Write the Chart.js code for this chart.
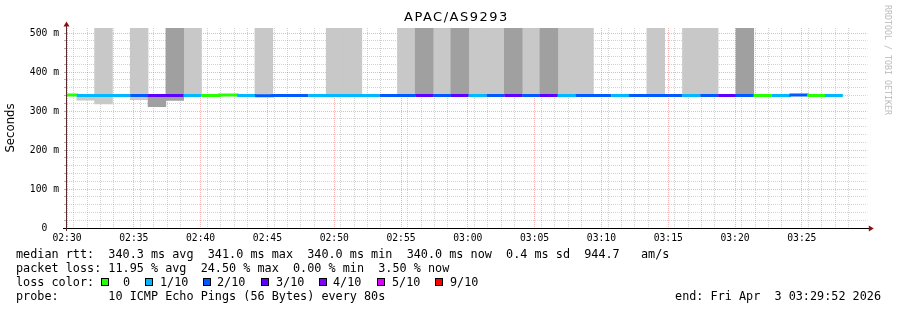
<!DOCTYPE html>
<html>
<head>
<meta charset="utf-8">
<script src="https://cdn.jsdelivr.net/npm/chart.js@4.4.1/dist/chart.umd.min.js"></script>
<style>
  html, body { margin: 0; padding: 0; background: #fff; }
  #wrap { position: relative; width: 897px; height: 310px; overflow: hidden; }
  #graph { position: absolute; left: 0; top: 0; }
  .mono { position: absolute; white-space: pre; font-family: "DejaVu Sans Mono", monospace; font-size: 11.8px; line-height: 14px; color: #000; }
  #title { position: absolute; left: 404px; top: 9px; white-space: pre; font-family: "DejaVu Sans", sans-serif; font-size: 13px; letter-spacing: 1.5px; color: #000; }
  #credit { position: absolute; left: 891.5px; top: 5px; white-space: pre; font-family: "DejaVu Sans Mono", monospace; font-size: 8.3px; line-height: 9px; color: #bbb; transform: rotate(90deg); transform-origin: 0 0; }
  .box { position: absolute; width: 6px; height: 6px; border: 1px solid #000; }
</style>
</head>
<body>
<div id="wrap">
  <canvas id="graph" width="897" height="310"></canvas>
  <div id="title">APAC/AS9293</div>
  <div id="credit">RRDTOOL / TOBI OETIKER</div>
  <div class="mono" style="left:16px; top:247px;">median rtt:  340.3 ms avg  341.0 ms max  340.0 ms min  340.0 ms now  0.4 ms sd  944.7   am/s</div>
  <div class="mono" style="left:16px; top:261px;">packet loss: 11.95 % avg  24.50 % max  0.00 % min  3.50 % now</div>
  <div class="mono" id="lossRow" style="left:0; top:275px; width:897px; height:14px;"><span style="position:absolute; left:16px;">loss color:</span></div>
  <div class="mono" style="left:16px; top:289px;">probe:       10 ICMP Echo Pings (56 Bytes) every 80s</div>
  <div class="mono" style="right:16px; top:289px;">end: Fri Apr  3 03:29:52 2026</div>
</div>
<script>
// one probe round every 80 s, start time of each round
const stepSeconds = 80;
const stepTimes = [
  '02:29:24', '02:30:44', '02:32:04', '02:33:24', '02:34:44', '02:36:04', '02:37:24', '02:38:44',
  '02:40:04', '02:41:24', '02:42:44', '02:44:04', '02:45:24', '02:46:44', '02:48:04', '02:49:24',
  '02:50:44', '02:52:04', '02:53:24', '02:54:44', '02:56:04', '02:57:24', '02:58:44', '03:00:04',
  '03:01:24', '03:02:44', '03:04:04', '03:05:24', '03:06:44', '03:08:04', '03:09:24', '03:10:44',
  '03:12:04', '03:13:24', '03:14:44', '03:16:04', '03:17:24', '03:18:44', '03:20:04', '03:21:24',
  '03:22:44', '03:24:04', '03:25:24', '03:26:44'
];
const lastStepEnd = '03:28:04';

// median rtt in seconds
const medianRtt = [
  0.341, 0.340, 0.340, 0.340, 0.340, 0.340, 0.340, 0.340, 0.340, 0.341,
  0.340, 0.339, 0.340, 0.340, 0.340, 0.340, 0.340, 0.340, 0.340, 0.340,
  0.340, 0.340, 0.340, 0.340, 0.340, 0.340, 0.340, 0.340, 0.340, 0.340,
  0.340, 0.340, 0.340, 0.340, 0.340, 0.340, 0.340, 0.340, 0.340, 0.340,
  0.340, 0.341, 0.340, 0.340
];

// lost pings out of 10
const lostPings = [
  0, 1, 1, 1, 2, 3, 3, 1, 0, 0,
  1, 2, 2, 2, 1, 1, 1, 1, 2, 2,
  3, 2, 3, 1, 2, 3, 2, 3, 1, 2,
  2, 1, 2, 2, 2, 1, 2, 3, 2, 0,
  1, 2, 0, 1
];

// smoke ranges [low, high] in seconds (high pings run off the top of the graph)
const lightSmoke = [
  null, [0.328, 0.340], [0.318, 0.52], null, [0.329, 0.52], null, null, [0.340, 0.52], null, null,
  null, [0.339, 0.52], null, null, null, [0.340, 0.52], [0.340, 0.52], null, null, [0.340, 0.52],
  null, [0.340, 0.52], null, [0.340, 0.52], [0.340, 0.52], null, [0.340, 0.52], null, [0.340, 0.52], [0.340, 0.52],
  null, null, null, [0.340, 0.52], null, [0.340, 0.52], [0.340, 0.52], null, null, null,
  null, null, null, null
];
const darkSmoke = [
  null, null, null, null, null, [0.311, 0.340], [0.327, 0.52], null, null, null,
  null, null, null, null, null, null, null, null, null, null,
  [0.340, 0.52], null, [0.340, 0.52], null, null, [0.340, 0.52], null, [0.340, 0.52], null, null,
  null, null, null, null, null, null, null, null, [0.340, 0.52], null,
  null, null, null, null
];

const lossNames = ['0', '1/10', '2/10', '3/10', '4/10', '5/10', '9/10'];
const lossColors = ['#26ff00', '#00b8ff', '#0059ff', '#5e00ff', '#7e00ff', '#dd00ff', '#ff0000'];

function toMinutes(t) {
  const [h, m, s] = t.split(':').map(Number);
  return (h * 3600 + m * 60 + s - (2 * 3600 + 30 * 60)) / 60;
}
function hhmm(v) {
  const total = 150 + Math.round(v);
  return String(Math.floor(total / 60)).padStart(2, '0') + ':' + String(total % 60).padStart(2, '0');
}
function lossColor(n) {
  return n >= 9 ? lossColors[6] : lossColors[Math.min(n, 5)];
}

// legend boxes
const legendBoxX = [101, 144.5, 202.5, 261, 318.5, 377, 434.5];
const legendTextX = [123, 160, 217, 276, 333, 392, 450];
const row = document.getElementById('lossRow');
lossNames.forEach((name, i) => {
  const b = document.createElement('span');
  b.className = 'box';
  b.style.left = legendBoxX[i] + 'px';
  b.style.top = '3px';
  b.style.background = lossColors[i];
  row.appendChild(b);
  const t = document.createElement('span');
  t.style.position = 'absolute';
  t.style.left = legendTextX[i] + 'px';
  t.textContent = name;
  row.appendChild(t);
});

const stepMin = stepSeconds / 60;
const lineData = stepTimes.map((t, i) => ({ x: toMinutes(t), y: medianRtt[i] }));
lineData.push({ x: toMinutes(lastStepEnd), y: medianRtt[medianRtt.length - 1] });

const minorGray = 'rgba(130,130,130,0.36)';
const majorRed = 'rgba(220,0,0,0.3)';
const tickFont = { family: 'DejaVu Sans Mono', size: 9.7 };

function minorX(c) {
  if (!c.tick) return 'transparent';
  return Math.round(c.tick.value) % 5 === 0 ? 'transparent' : minorGray;
}
function minorY(c) {
  if (!c.tick) return 'transparent';
  const v = c.tick.value * 10;
  return Math.abs(v - Math.round(v)) < 1e-6 ? 'transparent' : minorGray;
}

const axisArrows = {
  id: 'axisArrows',
  afterDraw(chart) {
    const { ctx, chartArea: a } = chart;
    const yb = Math.round(a.bottom) + 0.5;
    const xl = Math.round(a.left) - 0.5;
    ctx.save();
    ctx.lineWidth = 1;
    ctx.strokeStyle = '#000';
    ctx.beginPath();
    ctx.moveTo(a.left - 4, yb);
    ctx.lineTo(a.right + 2, yb);
    ctx.stroke();
    ctx.strokeStyle = '#5a2a2a';
    ctx.beginPath();
    ctx.moveTo(xl, a.bottom + 3);
    ctx.lineTo(xl, a.top - 2);
    ctx.stroke();
    ctx.fillStyle = '#8b1010';
    ctx.beginPath();
    ctx.moveTo(a.right + 6.5, yb);
    ctx.lineTo(a.right + 1.5, yb - 3);
    ctx.lineTo(a.right + 1.5, yb + 3);
    ctx.closePath();
    ctx.fill();
    ctx.beginPath();
    ctx.moveTo(xl, a.top - 6.5);
    ctx.lineTo(xl - 3, a.top - 1.5);
    ctx.lineTo(xl + 3, a.top - 1.5);
    ctx.closePath();
    ctx.fill();
    ctx.restore();
  }
};

new Chart(document.getElementById('graph'), {
  type: 'bar',
  data: {
    datasets: [
      {
        type: 'line',
        label: 'median rtt',
        data: lineData,
        xAxisID: 'x',
        yAxisID: 'y',
        stepped: true,
        borderWidth: 3,
        borderCapStyle: 'butt',
        pointRadius: 0,
        order: 0,
        segment: { borderColor: c => lossColor(lostPings[c.p0DataIndex]) }
      },
      {
        label: 'smoke dark',
        data: stepTimes.map((t, i) => ({ x: toMinutes(t) + stepMin / 2, y: darkSmoke[i] })),
        xAxisID: 'x',
        yAxisID: 'y',
        backgroundColor: '#a0a0a0',
        borderWidth: 0,
        grouped: false,
        barPercentage: 1,
        categoryPercentage: 1,
        order: 1
      },
      {
        label: 'smoke light',
        data: stepTimes.map((t, i) => ({ x: toMinutes(t) + stepMin / 2, y: lightSmoke[i] })),
        xAxisID: 'x',
        yAxisID: 'y',
        backgroundColor: '#c8c8c8',
        borderWidth: 0,
        grouped: false,
        barPercentage: 1,
        categoryPercentage: 1,
        order: 2
      }
    ]
  },
  options: {
    responsive: false,
    animation: false,
    devicePixelRatio: 1,
    layout: { padding: { left: 0, top: 28, right: 29.7, bottom: 66 } },
    plugins: { legend: { display: false }, tooltip: { enabled: false } },
    scales: {
      x: {
        type: 'linear', axis: 'x', position: 'bottom', weight: 1,
        min: 0, max: 59.9, offset: false, z: 2,
        grid: { color: majorRed, offset: false, drawTicks: false },
        border: { display: false, dash: [1, 1] },
        ticks: {
          stepSize: 5, includeBounds: false, autoSkip: false, maxRotation: 0,
          padding: 4.5, color: '#000', font: tickFont, callback: v => hhmm(v)
        },
        afterFit: s => { s.height = 16; }
      },
      xm: {
        type: 'linear', axis: 'x', position: 'bottom', weight: 0,
        min: 0, max: 59.9, offset: false, z: 1,
        grid: { color: minorX, drawTicks: false },
        border: { display: false, dash: [1, 1] },
        ticks: { display: false, stepSize: 1, includeBounds: false },
        afterFit: s => { s.height = 0; }
      },
      y: {
        type: 'linear', axis: 'y', position: 'left', weight: 1,
        min: 0, max: 0.513, z: 2,
        grid: { color: majorRed, drawTicks: false },
        border: { display: false, dash: [1, 1] },
        ticks: {
          stepSize: 0.1, includeBounds: false, padding: 8, color: '#000', font: tickFont,
          callback: v => (v === 0 ? '0  ' : Math.round(v * 1000) + ' m')
        },
        title: {
          display: true, text: 'Seconds', color: '#000',
          font: { family: 'DejaVu Sans', size: 11.7 }, padding: { top: 4, bottom: 0 }
        },
        afterFit: s => { s.width = 67; }
      },
      ym: {
        type: 'linear', axis: 'y', position: 'left', weight: 0,
        min: 0, max: 0.513, z: 1,
        grid: { color: minorY, drawTicks: true, tickLength: 3, tickColor: 'rgba(100,100,100,0.5)' },
        border: { display: false, dash: [1, 1] },
        ticks: { display: false, stepSize: 0.02, includeBounds: false },
        afterFit: s => { s.width = 0; }
      }
    }
  },
  plugins: [axisArrows]
});
</script>
</body>
</html>
